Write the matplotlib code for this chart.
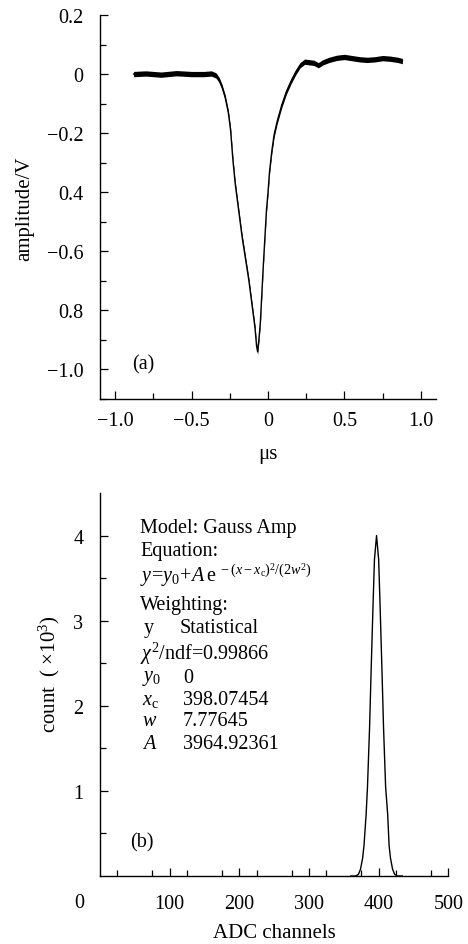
import matplotlib
matplotlib.use("Agg")
import matplotlib.pyplot as plt
import numpy as np

# (a) signal trace (time in us, amplitude in V)
trace_t = [-0.88, -0.80, -0.70, -0.60, -0.50, -0.42, -0.37, -0.34, -0.32, -0.30,
           -0.28, -0.26, -0.245, -0.23, -0.215, -0.20, -0.185, -0.17, -0.155, -0.14,
           -0.125, -0.11, -0.095, -0.085, -0.075, -0.068, -0.06, -0.05, -0.04, -0.03,
           -0.02, -0.01, 0.00, 0.01, 0.025, 0.04, 0.06, 0.09, 0.12, 0.15,
           0.18, 0.21, 0.24, 0.27, 0.30, 0.33, 0.36, 0.40, 0.45, 0.50,
           0.55, 0.60, 0.65, 0.70, 0.75, 0.80, 0.85, 0.88]
trace_v = [0.000, 0.002, -0.002, 0.003, 0.000, 0.000, 0.002, -0.005, -0.02, -0.045,
           -0.08, -0.13, -0.19, -0.29, -0.37, -0.43, -0.49, -0.55, -0.60, -0.65,
           -0.70, -0.76, -0.82, -0.86, -0.92, -0.94, -0.90, -0.84, -0.74, -0.64,
           -0.55, -0.46, -0.40, -0.33, -0.26, -0.205, -0.16, -0.105, -0.06, -0.025,
           0.005, 0.03, 0.042, 0.040, 0.038, 0.030, 0.040, 0.048, 0.055, 0.058,
           0.054, 0.050, 0.048, 0.050, 0.054, 0.052, 0.048, 0.044]
noise_half = 0.009  # half thickness of the noisy band

a_yticks = [0.2, 0, -0.2, -0.4, -0.6, -0.8, -1.0]
a_ylabels = ["0.2", "0", "\u22120.2", "0.4", "\u22120.6", "0.8", "\u22121.0"]
a_xticks = [-1.0, -0.5, 0, 0.5, 1.0]
a_xlabels = ["\u22121.0", "\u22120.5", "0", "0.5", "1.0"]

# (b) ADC spectrum (count in units of 1e3)
adc_ch = [360, 367, 371, 374, 377, 379, 382, 384, 387, 389, 392, 394, 397,
          400, 402, 405, 407, 410, 413, 415, 417, 420, 423, 427, 434]
adc_cnt = [0.0, 0.0, 0.02, 0.08, 0.21, 0.36, 0.72, 1.05, 1.75, 2.35, 3.2, 3.72, 4.0,
           3.72, 3.2, 2.35, 1.75, 1.05, 0.72, 0.36, 0.21, 0.08, 0.02, 0.0, 0.0]
b_xticks = [100, 200, 300, 400, 500]
b_yticks = [1, 2, 3, 4]

fit_names = [r"$y_0$", r"$x_{\rm c}$", r"$w$", r"$A$"]
fit_values = ["0", "398.07454", "7.77645", "3964.92361"]

plt.rcParams["font.family"] = ["Liberation Serif", "DejaVu Serif"]
plt.rcParams["mathtext.fontset"] = "custom"
plt.rcParams["mathtext.rm"] = "Liberation Serif"
plt.rcParams["mathtext.it"] = "Liberation Serif:italic"
plt.rcParams["mathtext.bf"] = "Liberation Serif:bold"
plt.rcParams["font.size"] = 14.5

fig = plt.figure(figsize=(4.68, 9.45), dpi=100)
W, H = 468.0, 945.0
ax1 = fig.add_axes([100 / W, (H - 400) / H, 336 / W, 384 / H])
ax2 = fig.add_axes([100 / W, (H - 877) / H, 348.3 / W, 383 / H])

for ax in (ax1, ax2):
    for s in ("top", "right"):
        ax.spines[s].set_visible(False)
    ax.spines["left"].set_linewidth(1.0)
    ax.spines["bottom"].set_linewidth(1.0)
    ax.tick_params(which="both", direction="in", width=0.9, labelsize=14.5)
    ax.tick_params(which="major", length=6)
    ax.tick_params(which="minor", length=4)
    ax.tick_params(axis="y", pad=12)
    ax.patch.set_visible(False)

# ---- panel (a)
t = np.array(trace_t)
v = np.array(trace_v)
ax1.fill_between(t, v - noise_half, v + noise_half, color="black", lw=0)
ax1.plot(t, v, color="black", lw=1.0)
ax1.set_xlim(-1.1, 1.1)
ax1.set_ylim(-1.1, 0.2)
ax1.set_xticks(a_xticks)
ax1.set_xticklabels(a_xlabels)
ax1.set_xticks([-0.75, -0.25, 0.25, 0.75], minor=True)
ax1.set_yticks(a_yticks)
ax1.set_yticklabels(a_ylabels)
ax1.set_yticks(np.arange(-1.1, 0.2, 0.2) + 0.0, minor=True)
ax1.tick_params(axis="x", pad=9)
ax1.set_xlabel("\u03bcs", fontsize=15)
ax1.xaxis.set_label_coords(0.5, -0.117)
ax1.set_ylabel("amplitude/V", fontsize=15)
ax1.yaxis.set_label_coords(-0.195, 0.497)
ax1.text(0.095, 0.091, "(a)", transform=ax1.transAxes, va="center", ha="left", fontsize=14.5)

# ---- panel (b)
ax2.plot(adc_ch, adc_cnt, color="black", lw=1.0)
ax2.set_xlim(0, 500)
ax2.set_ylim(0, 4.5)
ax2.set_xticks(b_xticks)
ax2.set_xticks(np.arange(25, 500, 50), minor=True)
ax2.set_yticks(b_yticks)
ax2.set_yticks([0.5, 1.5, 2.5, 3.5], minor=True)
ax2.tick_params(axis="x", pad=13)
ax2.text(-0.06, -0.068, "0", transform=ax2.transAxes, ha="center", va="center", fontsize=14.5)
ax2.set_xlabel("ADC channels", fontsize=15)
ax2.xaxis.set_label_coords(0.5, -0.122)
ax2.set_ylabel("count  ( \u00d710$^3$)", fontsize=15)
ax2.yaxis.set_label_coords(-0.11, 0.53)

tx = 0.115
fs = 14.5
ax2.text(tx, 0.909, "Model: Gauss Amp", transform=ax2.transAxes, va="center", fontsize=fs)
ax2.text(tx, 0.851, "Equation:", transform=ax2.transAxes, va="center", fontsize=fs)
ax2.text(tx, 0.786, r"$y\!=\!y_0\!+\!A\,\mathrm{e}^{\ -(x-x_{\rm c})^2/(2w^2)}$",
         transform=ax2.transAxes, va="center", fontsize=fs)
ax2.text(tx, 0.710, "Weighting:", transform=ax2.transAxes, va="center", fontsize=fs)
ax2.text(0.124, 0.648, "y", transform=ax2.transAxes, va="center", fontsize=fs)
ax2.text(0.230, 0.648, "Statistical", transform=ax2.transAxes, va="center", fontsize=fs)
ax2.text(tx, 0.582, r"$\chi^2$/ndf=0.99866", transform=ax2.transAxes, va="center", fontsize=fs)
for i, (nm, val) in enumerate(zip(fit_names, fit_values)):
    yy = [0.517, 0.460, 0.405, 0.347][i]
    ax2.text(0.121, yy, nm, transform=ax2.transAxes, va="center", fontsize=fs)
    ax2.text(0.238, yy, val, transform=ax2.transAxes, va="center", fontsize=fs)
ax2.text(0.086, 0.089, "(b)", transform=ax2.transAxes, va="center", ha="left", fontsize=14.5)

fig.savefig("out.png", dpi=100)
